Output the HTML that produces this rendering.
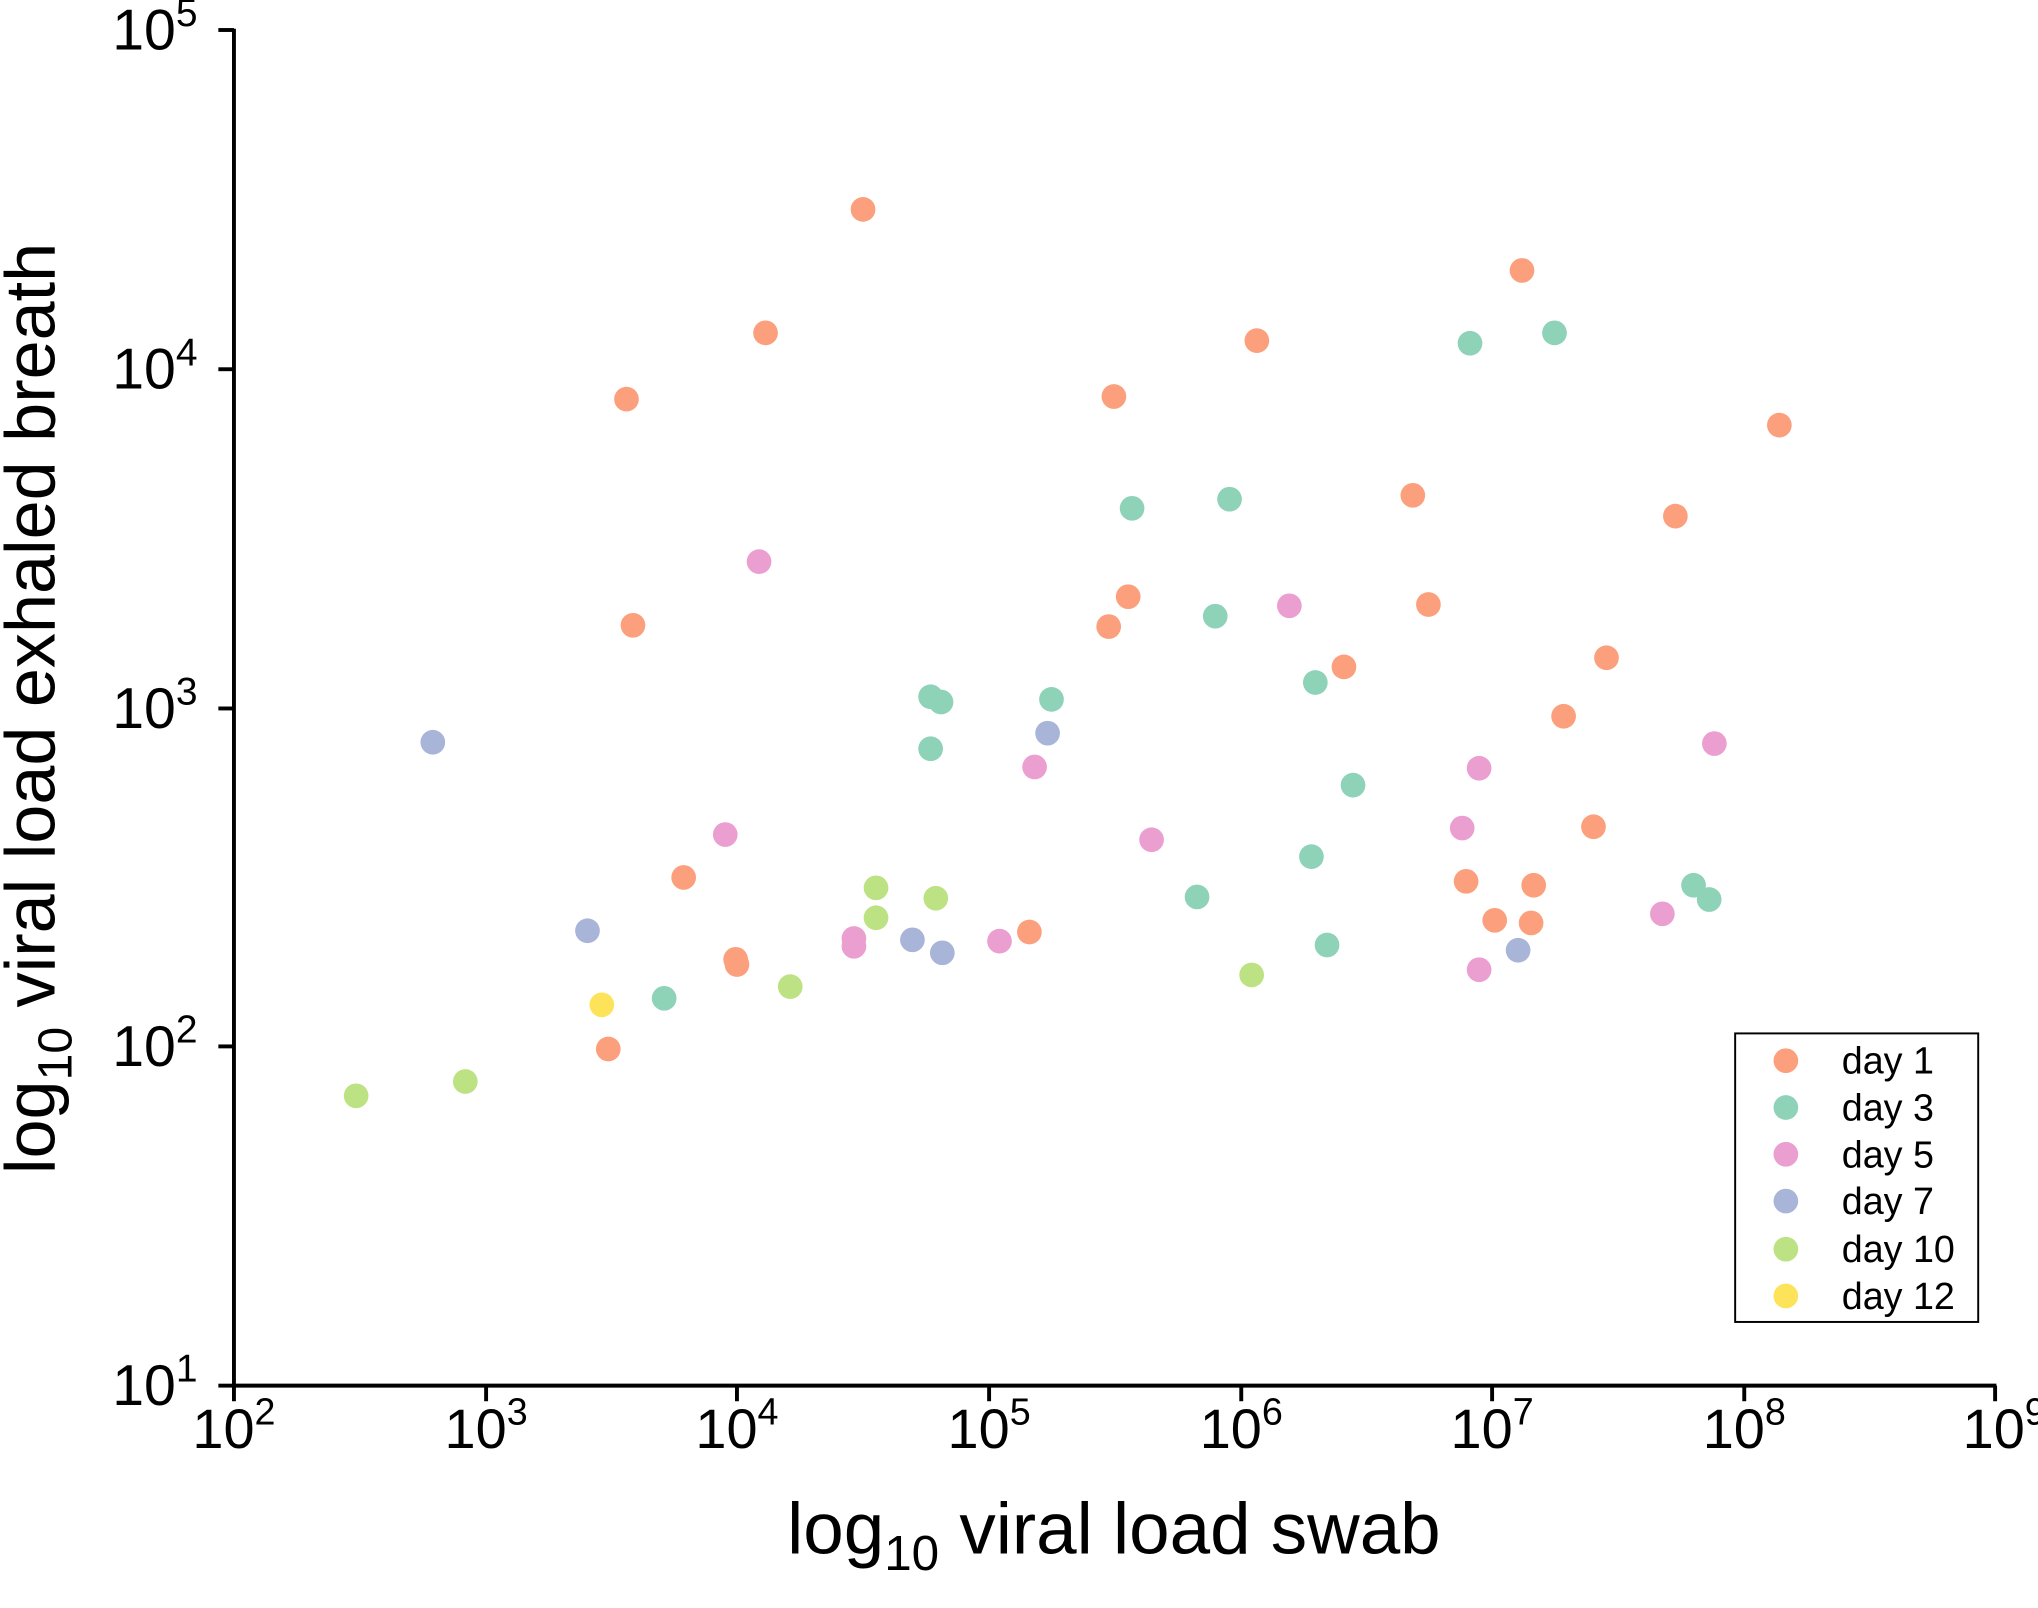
<!DOCTYPE html>
<html><head><meta charset="utf-8"><style>
html,body{margin:0;padding:0;background:#fff;}
svg{display:block;}
text{font-family:"Liberation Sans",Arial,sans-serif;fill:#000;}
</style></head><body>
<svg width="2038" height="1608" viewBox="0 0 1568 1237" xmlns="http://www.w3.org/2000/svg">
<g stroke="#000" stroke-width="3" fill="none">
<line x1="180" y1="1066" x2="1536" y2="1066"/>
<line x1="180" y1="1067" x2="180" y2="22"/>
<line x1="180" y1="1066" x2="180" y2="1078"/>
<line x1="374" y1="1066" x2="374" y2="1078"/>
<line x1="567" y1="1066" x2="567" y2="1078"/>
<line x1="761" y1="1066" x2="761" y2="1078"/>
<line x1="955" y1="1066" x2="955" y2="1078"/>
<line x1="1148" y1="1066" x2="1148" y2="1078"/>
<line x1="1342" y1="1066" x2="1342" y2="1078"/>
<line x1="1535" y1="1066" x2="1535" y2="1078"/>
<line x1="168" y1="23" x2="180" y2="23"/>
<line x1="168" y1="284" x2="180" y2="284"/>
<line x1="168" y1="545" x2="180" y2="545"/>
<line x1="168" y1="805" x2="180" y2="805"/>
<line x1="168" y1="1066" x2="180" y2="1066"/>
</g>
<g font-size="43" text-anchor="middle">
<text x="180" y="1114">10<tspan font-size="29" dy="-18">2</tspan></text>
<text x="374" y="1114">10<tspan font-size="29" dy="-18">3</tspan></text>
<text x="567" y="1114">10<tspan font-size="29" dy="-18">4</tspan></text>
<text x="761" y="1114">10<tspan font-size="29" dy="-18">5</tspan></text>
<text x="955" y="1114">10<tspan font-size="29" dy="-18">6</tspan></text>
<text x="1148" y="1114">10<tspan font-size="29" dy="-18">7</tspan></text>
<text x="1342" y="1114">10<tspan font-size="29" dy="-18">8</tspan></text>
<text x="1542" y="1114">10<tspan font-size="29" dy="-18">9</tspan></text>
</g>
<g font-size="44" text-anchor="end">
<text x="152" y="38">10<tspan font-size="30" dy="-18">5</tspan></text>
<text x="152" y="299">10<tspan font-size="30" dy="-18">4</tspan></text>
<text x="152" y="560">10<tspan font-size="30" dy="-18">3</tspan></text>
<text x="152" y="820">10<tspan font-size="30" dy="-18">2</tspan></text>
<text x="152" y="1081">10<tspan font-size="30" dy="-18">1</tspan></text>
</g>
<text x="857" y="1195" font-size="56" text-anchor="middle">log<tspan font-size="38" dy="13">10</tspan><tspan dy="-13"> viral load swab</tspan></text>
<text transform="translate(42,545) rotate(-90)" font-size="54" text-anchor="middle">log<tspan font-size="37" dy="13">10</tspan><tspan dy="-13"> viral load exhaled breath</tspan></text>
<g fill="#fc9f7c">
<circle cx="664" cy="161" r="9.5"/><circle cx="1171" cy="208" r="9.5"/><circle cx="589" cy="256" r="9.5"/><circle cx="967" cy="262" r="9.5"/><circle cx="482" cy="307" r="9.5"/><circle cx="857" cy="305" r="9.5"/><circle cx="1369" cy="327" r="9.5"/><circle cx="1087" cy="381" r="9.5"/><circle cx="1289" cy="397" r="9.5"/><circle cx="868" cy="459" r="9.5"/><circle cx="1099" cy="465" r="9.5"/><circle cx="487" cy="481" r="9.5"/><circle cx="853" cy="482" r="9.5"/><circle cx="1236" cy="506" r="9.5"/><circle cx="1034" cy="513" r="9.5"/><circle cx="1203" cy="551" r="9.5"/><circle cx="1226" cy="636" r="9.5"/><circle cx="526" cy="675" r="9.5"/><circle cx="1128" cy="678" r="9.5"/><circle cx="1180" cy="681" r="9.5"/><circle cx="1150" cy="708" r="9.5"/><circle cx="1178" cy="710" r="9.5"/><circle cx="792" cy="717" r="9.5"/><circle cx="566" cy="738" r="9.5"/><circle cx="567" cy="742" r="9.5"/><circle cx="468" cy="807" r="9.5"/>
</g>
<g fill="#8ed2b8">
<circle cx="1131" cy="264" r="9.5"/><circle cx="1196" cy="256" r="9.5"/><circle cx="946" cy="384" r="9.5"/><circle cx="871" cy="391" r="9.5"/><circle cx="935" cy="474" r="9.5"/><circle cx="716" cy="536" r="9.5"/><circle cx="724" cy="540" r="9.5"/><circle cx="809" cy="538" r="9.5"/><circle cx="1012" cy="525" r="9.5"/><circle cx="716" cy="576" r="9.5"/><circle cx="1041" cy="604" r="9.5"/><circle cx="1009" cy="659" r="9.5"/><circle cx="921" cy="690" r="9.5"/><circle cx="1303" cy="681" r="9.5"/><circle cx="1315" cy="692" r="9.5"/><circle cx="1021" cy="727" r="9.5"/><circle cx="511" cy="768" r="9.5"/>
</g>
<g fill="#eb9fd0">
<circle cx="584" cy="432" r="9.5"/><circle cx="992" cy="466" r="9.5"/><circle cx="796" cy="590" r="9.5"/><circle cx="1138" cy="591" r="9.5"/><circle cx="1319" cy="572" r="9.5"/><circle cx="558" cy="642" r="9.5"/><circle cx="886" cy="646" r="9.5"/><circle cx="1125" cy="637" r="9.5"/><circle cx="657" cy="722" r="9.5"/><circle cx="657" cy="728" r="9.5"/><circle cx="769" cy="724" r="9.5"/><circle cx="1279" cy="703" r="9.5"/><circle cx="1138" cy="746" r="9.5"/>
</g>
<g fill="#a8b5d8">
<circle cx="333" cy="571" r="9.5"/><circle cx="806" cy="564" r="9.5"/><circle cx="452" cy="716" r="9.5"/><circle cx="702" cy="723" r="9.5"/><circle cx="725" cy="733" r="9.5"/><circle cx="1168" cy="731" r="9.5"/>
</g>
<g fill="#bde283">
<circle cx="674" cy="683" r="9.5"/><circle cx="674" cy="706" r="9.5"/><circle cx="720" cy="691" r="9.5"/><circle cx="608" cy="759" r="9.5"/><circle cx="963" cy="750" r="9.5"/><circle cx="358" cy="832" r="9.5"/><circle cx="274" cy="843" r="9.5"/>
</g>
<circle cx="463" cy="773" r="9.5" fill="#fde35a"/>
<rect x="1335" y="795" width="187" height="222" fill="#fff" stroke="#000" stroke-width="1.5"/>
<g font-size="29">
<circle cx="1374" cy="816" r="9.5" fill="#fc9f7c"/><text x="1417" y="826">day 1</text>
<circle cx="1374" cy="852" r="9.5" fill="#8ed2b8"/><text x="1417" y="862">day 3</text>
<circle cx="1374" cy="888" r="9.5" fill="#eb9fd0"/><text x="1417" y="898">day 5</text>
<circle cx="1374" cy="924" r="9.5" fill="#a8b5d8"/><text x="1417" y="934">day 7</text>
<circle cx="1374" cy="961" r="9.5" fill="#bde283"/><text x="1417" y="971">day 10</text>
<circle cx="1374" cy="997" r="9.5" fill="#fde35a"/><text x="1417" y="1007">day 12</text>
</g>
</svg>
</body></html>
